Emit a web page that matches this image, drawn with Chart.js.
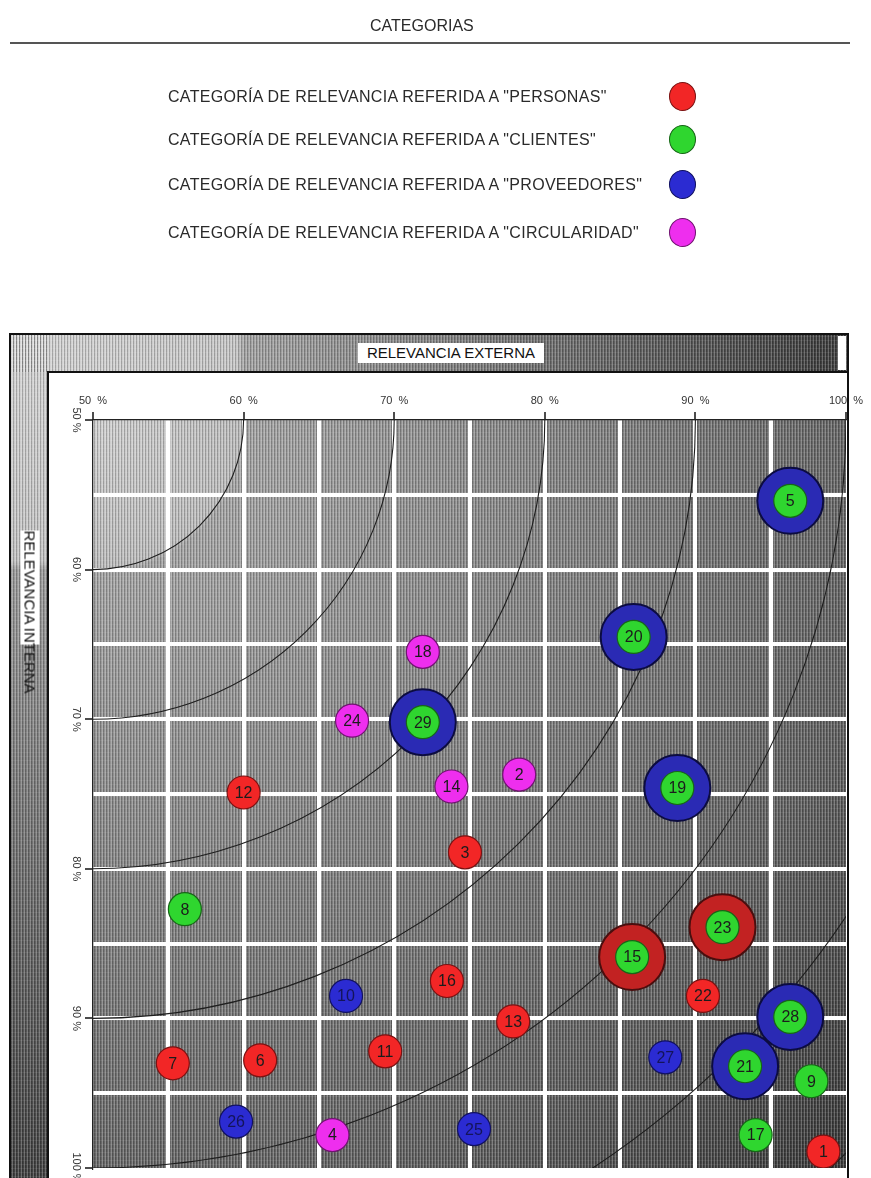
<!DOCTYPE html>
<html lang="es">
<head>
<meta charset="utf-8">
<title>Categorías de relevancia</title>
<script src="https://cdn.jsdelivr.net/npm/chart.js@4.4.0/dist/chart.umd.min.js"></script>
<style>
  html, body { margin: 0; padding: 0; background: #fff; }
  body { width: 871px; height: 1178px; position: relative; overflow: hidden;
         font-family: "Liberation Sans", Arial, sans-serif; color: #2a2a2a; }
  #grafico { position: absolute; left: 0; top: 0; }
  .txt { position: absolute; white-space: nowrap; }
  #titulo { left: 370px; top: 16px; font-size: 16px; line-height: 20px; }
  #linea { position: absolute; left: 10px; top: 42px; width: 840px; height: 2px; background: #555; }
  .fila { position: absolute; left: 168px; font-size: 16px; line-height: 20px; letter-spacing: 0.3px; }
  .bola { position: absolute; left: 669px; width: 27px; height: 29px; border-radius: 50%;
          border: 1px solid #444; box-sizing: border-box; }
  .caja { background: #fff; color: #111; font-size: 15px; text-align: center; }
  #ext { left: 358px; top: 343px; width: 186px; height: 20px; line-height: 20px; }
  #int { left: -27px; top: 578px; width: 114px; height: 19px; line-height: 19px; transform: rotate(90deg); }
</style>
</head>
<body>
<canvas id="grafico" width="871" height="1178"></canvas>
<div class="txt" id="titulo">CATEGORIAS</div>
<div id="linea"></div>
<div class="txt caja" id="ext">RELEVANCIA EXTERNA</div>
<div class="txt caja" id="int">RELEVANCIA INTERNA</div>
<script>
// categorias y colores
const categorias = ['PERSONAS', 'CLIENTES', 'PROVEEDORES', 'CIRCULARIDAD'];
const colores = ['#f22626', '#2fd62f', '#2b2bd2', '#ee2eee'];
const bordes = ['#7a1212', '#176617', '#111160', '#701470'];

// puntos: numero, relevancia externa (x), relevancia interna (y)
const numeros = [1, 2, 3, 4, 5, 6, 7, 8, 9, 10, 11, 12, 13, 14, 15, 16, 17, 18, 19, 20, 21, 22, 23, 24, 25, 26, 27, 28, 29];
const relExterna = [98.5, 78.3, 74.7, 65.9, 96.3, 61.1, 55.3, 56.1, 97.7, 66.8, 69.4, 60.0, 77.9, 73.8, 85.8,
                    73.5, 94.0, 71.9, 88.8, 85.9, 93.3, 90.5, 91.8, 67.2, 75.3, 59.5, 88.0, 96.3, 71.9];
const relInterna = [98.9, 73.7, 78.9, 97.8, 55.4, 92.8, 93.0, 82.7, 94.2, 88.5, 92.2, 74.9, 90.2, 74.5, 85.9,
                    87.5, 97.8, 65.5, 74.6, 64.5, 93.2, 88.5, 83.9, 70.1, 97.4, 96.9, 92.6, 89.9, 70.2];
// categoria del circulo interior
const categoria = [0, 3, 0, 3, 1, 0, 0, 1, 1, 2, 0, 0, 0, 3, 1, 0, 1, 3, 1, 1, 1, 0, 1, 3, 2, 2, 2, 1, 1];
// categoria del anillo exterior (-1 = sin anillo)
const anillo = [-1, -1, -1, -1, 2, -1, -1, -1, -1, -1, -1, -1, -1, -1, 0, -1, -1, -1, 2, 2, 2, -1, 0, -1, -1, -1, -1, 2, 2];
// arcos de referencia (radio en %)
const arcos = [10, 20, 30, 40, 50, 60, 70];

// leyenda de arriba
const filaY = [87, 130, 175, 223];
categorias.forEach((c, i) => {
  const t = document.createElement('div');
  t.className = 'fila';
  t.style.top = filaY[i] + 'px';
  t.textContent = 'CATEGORÍA DE RELEVANCIA REFERIDA A "' + c + '"';
  document.body.appendChild(t);
  const b = document.createElement('div');
  b.className = 'bola';
  b.style.top = (filaY[i] - 5) + 'px';
  b.style.background = colores[i];
  b.style.borderColor = bordes[i];
  document.body.appendChild(b);
});

function rayas(ctx) {
  const c = document.createElement('canvas');
  c.width = 3; c.height = 4;
  const g = c.getContext('2d');
  g.fillStyle = 'rgba(255,255,255,0.22)'; g.fillRect(0, 0, 1, 4);
  g.fillStyle = 'rgba(0,0,0,0.22)'; g.fillRect(1, 0, 1, 4);
  g.fillStyle = 'rgba(255,255,255,0.08)'; g.fillRect(0, 0, 3, 1);
  return ctx.createPattern(c, 'repeat');
}

const fondo = {
  id: 'fondo',
  beforeDraw(chart) {
    const {ctx, chartArea: a} = chart;
    const pat = rayas(ctx);
    ctx.save();
    ctx.fillStyle = '#fff';
    ctx.fillRect(0, 0, chart.width, chart.height);
    // banda superior
    let g = ctx.createLinearGradient(10, 0, 848, 0);
    g.addColorStop(0, '#d4d4d4'); g.addColorStop(0.27, '#c6c6c6');
    g.addColorStop(0.28, '#a2a2a2'); g.addColorStop(1, '#3a3a3a');
    ctx.fillStyle = g; ctx.fillRect(10, 334, 838, 38);
    // banda izquierda
    g = ctx.createLinearGradient(0, 334, 0, 1178);
    g.addColorStop(0, '#d4d4d4'); g.addColorStop(0.27, '#c2c2c2');
    g.addColorStop(0.28, '#9a9a9a'); g.addColorStop(1, '#404040');
    ctx.fillStyle = g; ctx.fillRect(10, 334, 38, 844);
    ctx.fillStyle = pat;
    ctx.fillRect(10, 334, 838, 38);
    ctx.fillRect(10, 334, 38, 844);
    ctx.fillStyle = '#fff'; ctx.fillRect(838, 336, 8, 34);
    ctx.strokeStyle = '#111'; ctx.lineWidth = 2;
    ctx.strokeRect(10, 334, 838, 900);
    ctx.beginPath(); ctx.moveTo(48, 1180); ctx.lineTo(48, 372); ctx.lineTo(848, 372); ctx.stroke();
    // area del grafico
    const r = Math.hypot(a.right - a.left, a.bottom - a.top);
    g = ctx.createRadialGradient(a.left, a.top, 0, a.left, a.top, r);
    g.addColorStop(0, '#d0d0d0'); g.addColorStop(0.14, '#bcbcbc'); g.addColorStop(0.145, '#a4a4a4');
    g.addColorStop(0.4, '#888'); g.addColorStop(0.75, '#606060'); g.addColorStop(1, '#363636');
    ctx.fillStyle = g; ctx.fillRect(a.left, a.top, a.right - a.left, a.bottom - a.top);
    ctx.fillStyle = pat; ctx.fillRect(a.left, a.top, a.right - a.left, a.bottom - a.top);
    ctx.restore();
  },
  beforeDatasetsDraw(chart) {
    const {ctx, chartArea: a, scales: {x, y}} = chart;
    const x0 = x.getPixelForValue(50), y0 = y.getPixelForValue(50);
    ctx.save();
    ctx.beginPath(); ctx.rect(a.left, a.top, a.right - a.left, a.bottom - a.top); ctx.clip();
    ctx.strokeStyle = '#1e1e1e'; ctx.lineWidth = 1.1;
    arcos.forEach(r => {
      const rx = x.getPixelForValue(50 + r) - x0;
      const ry = y.getPixelForValue(50 + r) - y0;
      ctx.beginPath(); ctx.ellipse(x0, y0, rx, ry, 0, 0, Math.PI / 2); ctx.stroke();
    });
    ctx.restore();
  },
  afterDatasetsDraw(chart) {
    const {ctx, scales: {x, y}} = chart;
    ctx.save();
    ctx.font = '16px "Liberation Sans", Arial, sans-serif';
    ctx.textAlign = 'center'; ctx.textBaseline = 'middle';
    numeros.forEach((n, i) => {
      ctx.fillStyle = categoria[i] === 2 ? '#14145a' : '#1c1c1c';
      ctx.fillText(String(n), x.getPixelForValue(relExterna[i]), y.getPixelForValue(relInterna[i]) + 1);
    });
    ctx.restore();
  }
};

const datasets = [];
categorias.forEach((c, k) => {
  const idx = numeros.map((n, i) => i).filter(i => anillo[i] === k);
  if (idx.length) datasets.push({
    label: 'Anillo ' + c, order: 2,
    data: idx.map(i => ({x: relExterna[i], y: relInterna[i]})),
    pointRadius: 33, backgroundColor: k === 2 ? '#2a2ab4' : '#c22222',
    borderColor: k === 2 ? '#0c0c40' : '#4a0e0e', borderWidth: 2
  });
});
categorias.forEach((c, k) => {
  const idx = numeros.map((n, i) => i).filter(i => categoria[i] === k);
  datasets.push({
    label: c, order: 1,
    data: idx.map(i => ({x: relExterna[i], y: relInterna[i]})),
    pointRadius: 16.5, backgroundColor: colores[k],
    borderColor: bordes[k], borderWidth: 1.2
  });
});

const fuente = {family: '"Liberation Sans", Arial, sans-serif', size: 11};
const transparente = 'rgba(0,0,0,0)';

new Chart(document.getElementById('grafico'), {
  type: 'scatter',
  data: {datasets},
  options: {
    responsive: false,
    animation: false,
    events: [],
    layout: {autoPadding: false, padding: {left: 48, top: 372, right: 25, bottom: 10}},
    plugins: {legend: {display: false}, tooltip: {enabled: false}},
    scales: {
      x: {
        type: 'linear', position: 'top', min: 50, max: 100,
        ticks: {stepSize: 5, autoSkip: false, maxRotation: 0, padding: 4, color: '#333', font: fuente,
                callback: v => v % 10 === 0 ? v + '  %' : ''},
        grid: {lineWidth: 4, tickLength: 8, tickWidth: 1.5,
               color: c => (c.tick.value === 50 || c.tick.value === 100) ? transparente : '#ffffff',
               tickColor: c => c.tick.value % 10 === 0 ? '#111' : transparente},
        border: {display: true, color: '#222', width: 1.2},
        afterFit: s => { s.height = 48; s.paddingLeft = 0; s.paddingRight = 0; }
      },
      y: {
        type: 'linear', position: 'left', reverse: true, min: 50, max: 100,
        ticks: {stepSize: 5, autoSkip: false, minRotation: -90, maxRotation: -90, crossAlign: 'center',
                padding: -7, color: '#333', font: fuente,
                callback: v => v % 10 === 0 ? v + ' %' : ''},
        grid: {lineWidth: 4, tickLength: 8, tickWidth: 1.5,
               color: c => (c.tick.value === 50 || c.tick.value === 100) ? transparente : '#ffffff',
               tickColor: c => c.tick.value % 10 === 0 ? '#111' : transparente},
        border: {display: true, color: '#222', width: 1.2},
        afterFit: s => { s.width = 45; s.paddingTop = 0; s.paddingBottom = 0; }
      }
    }
  },
  plugins: [fondo]
});
</script>
</body>
</html>
